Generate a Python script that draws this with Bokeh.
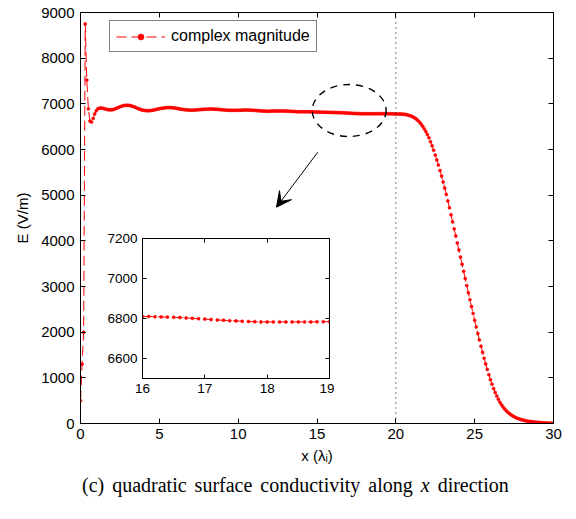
from bokeh.plotting import figure
from bokeh.models import (Range1d, FixedTicker, LinearAxis, Legend, LegendItem,
                          Span, Arrow, VeeHead, Div)
from bokeh.layouts import column
from bokeh.embed import file_html
from bokeh.resources import INLINE

# ---------------- data ----------------
x_step = 0.1
x_lambda = [round(i * x_step, 1) for i in range(301)]   # sample grid 0 .. 30 (lambda_i)

e_mag = [
    500, 1300, 2000, 8750, 7520, 6890, 6620, 6600, 6680, 6780,        # 0.0-0.9
    6850, 6890, 6905, 6910, 6905, 6895, 6885, 6875, 6870, 6868,       # 1
    6870, 6878, 6890, 6905, 6920, 6935, 6948, 6958, 6965, 6968,       # 2
    6968, 6965, 6958, 6948, 6935, 6920, 6905, 6890, 6877, 6866,       # 3
    6858, 6853, 6850, 6850, 6852, 6856, 6862, 6869, 6877, 6885,       # 4
    6893, 6900, 6906, 6911, 6915, 6917, 6918, 6917, 6915, 6912,       # 5
    6907, 6901, 6895, 6889, 6883, 6877, 6872, 6868, 6865, 6863,       # 6
    6862, 6862, 6863, 6865, 6868, 6871, 6874, 6877, 6880, 6882,       # 7
    6884, 6885, 6886, 6886, 6885, 6884, 6882, 6879, 6876, 6873,       # 8
    6870, 6867, 6864, 6862, 6860, 6859, 6858, 6858, 6858, 6859,       # 9
    6860, 6861, 6862, 6863, 6864, 6864, 6864, 6863, 6862, 6860,       # 10
    6858, 6855, 6852, 6849, 6846, 6844, 6842, 6841, 6840, 6840,       # 11
    6840, 6841, 6842, 6843, 6844, 6845, 6845, 6845, 6845, 6844,       # 12
    6843, 6841, 6839, 6837, 6835, 6833, 6831, 6829, 6828, 6827,       # 13
    6826, 6826, 6826, 6826, 6826, 6826, 6825, 6824, 6823, 6822,       # 14
    6821, 6820, 6819, 6818, 6817, 6816, 6815, 6814, 6812, 6811,       # 15
    6810, 6810, 6809, 6808, 6807, 6806, 6805, 6803, 6801, 6799,       # 16
    6797, 6795, 6793, 6791, 6789, 6788, 6786, 6785, 6784, 6783,       # 17
    6783, 6783, 6783, 6783, 6783, 6783, 6783, 6783, 6784, 6784,       # 18
    6784, 6784, 6784, 6784, 6784, 6783, 6783, 6782, 6781, 6780,       # 19
    6780, 6779, 6778, 6777, 6775, 6772, 6767, 6760, 6751, 6741,       # 20
    6730, 6713, 6692, 6666, 6635, 6600, 6558, 6510, 6455, 6395,       # 21
    6330, 6255, 6172, 6082, 5985, 5880, 5772, 5658, 5540, 5418,       # 22
    5290, 5156, 5016, 4872, 4724, 4570, 4416, 4262, 4108, 3954,       # 23
    3800, 3644, 3488, 3332, 3176, 3020, 2865, 2712, 2560, 2409,       # 24
    2260, 2114, 1971, 1831, 1694, 1560, 1430, 1305, 1185, 1070,       # 25
    960, 860, 767, 681, 602, 530, 468, 413, 364, 320,                 # 26
    280, 248, 220, 194, 171, 150, 132, 117, 103, 91,                  # 27
    80, 71, 63, 56, 50, 45, 40, 36, 32, 28,                           # 28
    25, 22, 19, 17, 14, 12, 10, 9, 7, 6,                              # 29
    5,                                                                # 30
]

series_label = "complex magnitude"
x_label = "x (λᵢ)"
y_label = "E (V/m)"
x_ticks = [0, 5, 10, 15, 20, 25, 30]
y_ticks = [0, 1000, 2000, 3000, 4000, 5000, 6000, 7000, 8000, 9000]
inset_x_ticks = [16, 17, 18, 19]
inset_y_ticks = [6600, 6800, 7000, 7200]
boundary_x = 20
caption_text = "(c) quadratic surface conductivity along <i>x</i> direction"

RED = "#ff0000"
SANS = "Liberation Sans"


def style_axes(fig, xt, yt, font_size, tick_len):
    fig.xgrid.visible = False
    fig.ygrid.visible = False
    fig.outline_line_color = "black"
    fig.outline_line_width = 1
    fig.background_fill_color = "white"
    fig.border_fill_color = "white"
    fig.xaxis.ticker = FixedTicker(ticks=xt)
    fig.yaxis.ticker = FixedTicker(ticks=yt)
    for side, ticks in (("above", xt), ("right", yt)):
        ax = LinearAxis(ticker=FixedTicker(ticks=ticks), major_label_text_font_size="1px",
                        major_label_text_color=None, major_label_standoff=0)
        fig.add_layout(ax, side)
    for ax in fig.axis:
        ax.axis_line_color = "black"
        ax.major_tick_line_color = "black"
        ax.major_tick_in = tick_len
        ax.major_tick_out = 0
        ax.minor_tick_in = 0
        ax.minor_tick_out = 0
        ax.minor_tick_line_color = None
        ax.major_label_text_font = SANS
    for ax in (fig.below[0], fig.left[0]):
        ax.major_label_text_font_size = font_size
        ax.major_label_text_color = "black"
    fig.below[0].major_label_standoff = 5
    fig.left[0].major_label_standoff = 6


# ---------------- main figure ----------------
p = figure(frame_width=473, frame_height=411, x_range=Range1d(0, 30), y_range=Range1d(0, 9000),
           min_border_left=80, min_border_right=20, min_border_top=12, min_border_bottom=48,
           output_backend="svg", toolbar_location=None)
style_axes(p, x_ticks, y_ticks, "15px", 5)
for ax, lab in ((p.left[0], y_label), (p.below[0], x_label)):
    ax.axis_label = lab
    ax.axis_label_text_font = SANS
    ax.axis_label_text_font_size = "15px"
    ax.axis_label_text_font_style = "normal"
    ax.axis_label_text_color = "black"
p.left[0].axis_label_standoff = 7
p.below[0].axis_label_standoff = 5

r_line = p.line(x_lambda, e_mag, line_color=RED, line_width=1, line_dash="10 5")
r_dots = p.scatter(x_lambda, e_mag, size=3, fill_color=RED, line_color=RED, line_width=0.6)

p.add_layout(Span(location=boundary_x, dimension="height", line_color="black",
                  line_dash="1 4", line_width=1))

p.ellipse(x=[17.04], y=[6854], width=[4.69], height=[1139], fill_color=None,
          line_color="black", line_width=1.4, line_dash="7 6")
p.add_layout(Arrow(end=VeeHead(size=15, fill_color="black", line_color="black"),
                   x_start=15.05, y_start=5941, x_end=12.43, y_end=4737,
                   line_color="black", line_width=1))

legend = Legend(items=[LegendItem(label=series_label, renderers=[r_line, r_dots])],
                location=(29, 371), border_line_color="black", border_line_width=1,
                background_fill_color="white", background_fill_alpha=1,
                label_text_font=SANS, label_text_font_size="16px", label_text_color="black",
                padding=6, margin=0, spacing=0, glyph_width=49, glyph_height=15,
                label_height=15, label_standoff=6)
p.add_layout(legend)

caption = Div(text='<div style="font-family:\'Liberation Serif\';font-size:20px;'
                   'word-spacing:3px;white-space:nowrap;padding-left:82px;color:black;">'
                   + caption_text + '</div>',
              width=570, height=30, margin=0)

# ---------------- inset ----------------
inset = figure(frame_width=187, frame_height=140, x_range=Range1d(16, 19),
               y_range=Range1d(6500, 7200),
               min_border_left=45, min_border_right=5, min_border_top=10, min_border_bottom=25,
               output_backend="svg", toolbar_location=None,
               styles={"position": "absolute", "left": "97px", "top": "228px"})
style_axes(inset, inset_x_ticks, inset_y_ticks, "13.5px", 4)
inset.left[0].major_label_standoff = 5
inset.below[0].major_label_standoff = 5
inset.line(x_lambda, e_mag, line_color=RED, line_width=1, line_dash="10 5")
inset.scatter(x_lambda, e_mag, size=3, fill_color=RED, line_color=RED, line_width=0.6)

layout = column(p, caption, spacing=0)
open("out.html", "w").write(file_html([layout, inset], INLINE))
